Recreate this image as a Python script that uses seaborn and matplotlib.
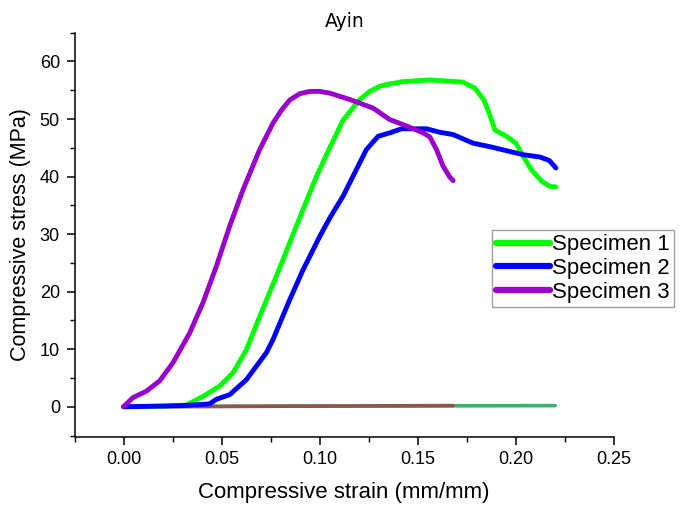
import numpy as np
import pandas as pd
import seaborn as sns
from matplotlib import pyplot as plt
from matplotlib.ticker import MultipleLocator, FormatStrFormatter

# specimen curves (strain mm/mm, stress MPa)
s1_strain = [0.0, 0.010, 0.020, 0.032, 0.0405, 0.049, 0.0558, 0.0626, 0.0694, 0.0779, 0.0847, 0.0915,
             0.0983, 0.1051, 0.1119, 0.1204, 0.1255, 0.1306, 0.1357, 0.1425, 0.1561, 0.1697, 0.1731,
             0.1790, 0.1837, 0.1867, 0.1893, 0.1952, 0.2000, 0.2037, 0.2079, 0.2131, 0.2173, 0.2204]
s1_stress = [0.0, 0.05, 0.1, 0.3, 1.8, 3.6, 5.9, 9.9, 15.7, 22.7, 28.5, 34.3,
             40.0, 45.0, 49.8, 53.4, 54.8, 55.7, 56.1, 56.5, 56.8, 56.5, 56.4,
             55.4, 53.3, 50.7, 48.1, 47.0, 45.8, 43.5, 41.2, 39.2, 38.3, 38.2]

s2_strain = [0.0, 0.015, 0.030, 0.0439, 0.0473, 0.0541, 0.0626, 0.0728, 0.0762, 0.0847, 0.0915, 0.1000,
             0.1051, 0.1119, 0.1204, 0.1238, 0.1298, 0.1357, 0.1417, 0.1476, 0.1544, 0.1612, 0.1680,
             0.1782, 0.1867, 0.1952, 0.2037, 0.2122, 0.2170, 0.2204]
s2_stress = [0.0, 0.1, 0.2, 0.5, 1.3, 2.1, 4.7, 9.4, 11.7, 18.6, 23.8, 29.6,
             32.8, 36.6, 42.4, 44.7, 47.0, 47.6, 48.3, 48.3, 48.3, 47.7, 47.3,
             45.8, 45.2, 44.5, 43.8, 43.4, 42.8, 41.5]

s3_strain = [0.0, 0.0048, 0.0116, 0.0184, 0.0251, 0.0337, 0.0405, 0.0473, 0.0541, 0.0609, 0.0694, 0.0762,
             0.0804, 0.0847, 0.0898, 0.0949, 0.1000, 0.1051, 0.1153, 0.1272, 0.1357, 0.1442, 0.1527,
             0.1561, 0.1595, 0.1629, 0.1663, 0.1680]
s3_stress = [0.0, 1.6, 2.7, 4.5, 7.6, 12.8, 18.1, 24.4, 31.4, 37.7, 44.7, 49.3,
             51.5, 53.3, 54.4, 54.8, 54.8, 54.5, 53.4, 51.9, 49.9, 48.8, 47.6,
             46.9, 44.7, 41.8, 39.9, 39.3]

# flat baseline traces near zero (not in legend)
base_green_strain = [0.0, 0.22]
base_green_stress = [0.05, 0.2]
base_brown_strain = [0.0, 0.168]
base_brown_stress = [0.0, 0.2]

labels = ['Specimen 1', 'Specimen 2', 'Specimen 3']
colors = ['#00ff00', '#0000ff', '#9900cc']

frames = []
for name, x, y in zip(labels, [s1_strain, s2_strain, s3_strain], [s1_stress, s2_stress, s3_stress]):
    frames.append(pd.DataFrame({'strain': x, 'stress': y, 'specimen': name}))
df = pd.concat(frames, ignore_index=True)

sns.set_theme(style='ticks')
plt.rcParams['font.family'] = ['Liberation Sans', 'DejaVu Sans']
plt.rcParams['text.color'] = 'black'
plt.rcParams['axes.labelcolor'] = 'black'

fig = plt.figure(figsize=(6.82, 5.05), dpi=100)
ax = fig.add_axes([74.5 / 682, 1 - 436.7 / 505, (614 - 74.5) / 682, (436.7 - 32.7) / 505])

# baselines first, under the curves
sns.lineplot(x=base_green_strain, y=base_green_stress, color='#3cb371', linewidth=2.6, ax=ax, legend=False)
sns.lineplot(x=base_brown_strain, y=base_brown_stress, color='#8c564b', linewidth=2.6, ax=ax, legend=False)

sns.lineplot(data=df, x='strain', y='stress', hue='specimen', palette=dict(zip(labels, colors)),
             sort=False, estimator=None, linewidth=3.5, ax=ax)
for line in ax.get_lines():
    line.set_solid_joinstyle('round')
    line.set_solid_capstyle('round')

ax.set_xlim(-0.025, 0.25)
ax.set_ylim(-5.2, 65)
ax.xaxis.set_major_locator(MultipleLocator(0.05))
ax.xaxis.set_minor_locator(MultipleLocator(0.025))
ax.xaxis.set_major_formatter(FormatStrFormatter('%.2f'))
ax.yaxis.set_major_locator(MultipleLocator(10))
ax.yaxis.set_minor_locator(MultipleLocator(5))
ax.tick_params(which='major', length=5.5, width=1.1, labelsize=13, pad=5, color='black', labelcolor='black')
ax.tick_params(which='minor', length=3.5, width=1.0, color='black')
for side in ['left', 'bottom']:
    ax.spines[side].set_linewidth(1.1)
    ax.spines[side].set_color('black')
sns.despine(ax=ax)

ax.set_xlabel('Compressive strain (mm/mm)', fontsize=16, labelpad=10, color='black')
ax.set_ylabel('Compressive stress (MPa)', fontsize=15.5, labelpad=6, color='black')
ax.set_title('Ayin', fontsize=13.5, family='DejaVu Sans', pad=4, color='black')

leg = ax.legend(loc='upper left', bbox_to_anchor=(492 / 682, 1 - 230 / 505), bbox_transform=fig.transFigure,
                borderaxespad=0, fontsize=16, frameon=True, fancybox=False, edgecolor='#888888',
                handlelength=2.4, handletextpad=0.1, labelspacing=0.12, borderpad=0.2)
leg.get_frame().set_linewidth(1.0)
for text in leg.get_texts():
    text.set_color('black')
for line in leg.get_lines():
    line.set_linewidth(4.5)
    line.set_solid_capstyle('round')

fig.savefig('out.png', dpi=100)
